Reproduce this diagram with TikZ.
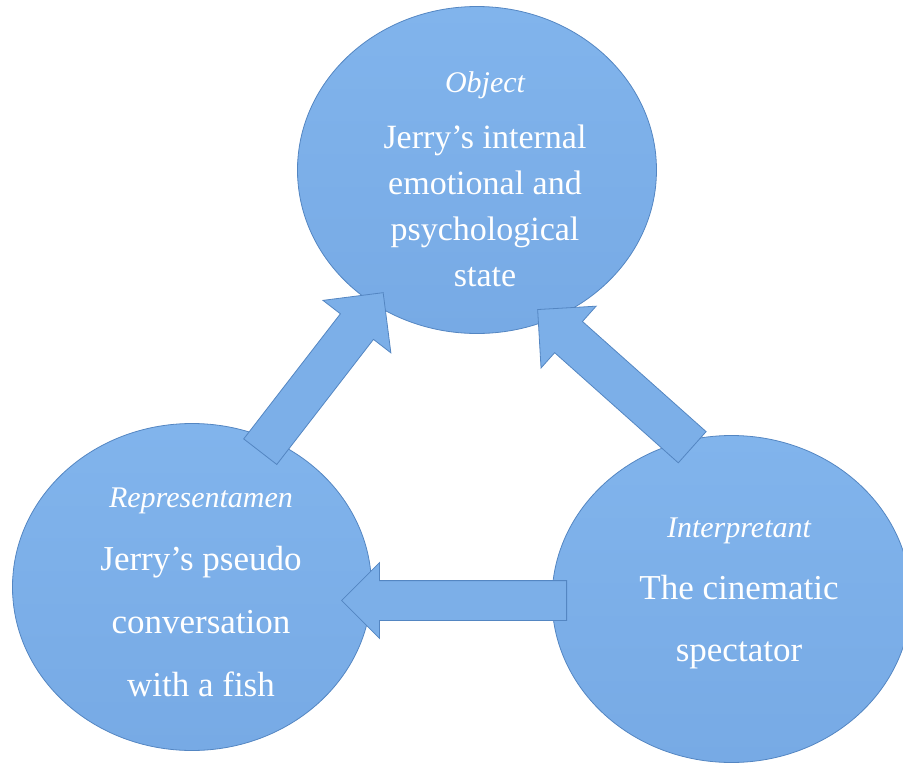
\documentclass[tikz,border=0pt]{standalone}
\usepackage{fontspec}
\setmainfont{Liberation Serif}
\usetikzlibrary{shapes.geometric,shapes.arrows}
\definecolor{signtop}{RGB}{129,180,236}
\definecolor{signbottom}{RGB}{119,170,229}
\definecolor{signfill}{RGB}{124,175,232}
\definecolor{signedge}{RGB}{84,134,194}
\tikzset{
  signnode/.style={
    ellipse,
    draw=signedge,
    line width=0.8pt,
    top color=signtop,
    bottom color=signbottom,
    minimum width=359,
    minimum height=327,
    inner sep=0pt
  },
  signtext/.style={
    text=white,
    align=center,
    inner sep=0pt
  },
  blockarrow/.style={
    single arrow,
    draw=signedge,
    fill=signfill,
    line width=0.8pt,
    inner xsep=0pt,
    text height=0pt,
    text depth=0pt,
    anchor=tail
  }
}

\begin{document}
\begin{tikzpicture}[x=1pt,y=-1pt]
  \useasboundingbox (0,0) rectangle (903,766);
  % the three corners of the sign
  \node[signnode] (object) at (477,170) {};
  \node[signnode] (repr) at (192,587) {};
  \node[signnode] (interp) at (731.5,599) {};
  % block arrows
  \node[blockarrow, inner ysep=20.5pt, single arrow head extend=22pt,
    minimum height=201, rotate=52.3] (reprobj) at (260,452) {};
  \node[blockarrow, inner ysep=20.5pt, single arrow head extend=20.5pt,
    minimum height=207, rotate=138.3] (interpobj) at (692.5,447.5) {};
  \node[blockarrow, inner ysep=19.5pt, single arrow head extend=18pt,
    minimum height=225, rotate=180] (interprepr) at (567,600.5) {};
  % texts
  \node[signtext, font=\fontsize{34}{46}\selectfont] (objecttext) at (485,179)
    {{\fontsize{30}{46}\selectfont\itshape Object}\\[10pt]
     Jerry’s internal\\ emotional and\\ psychological\\ state};
  \node[signtext, font=\fontsize{35}{63}\selectfont] (reprtext) at (201,592)
    {{\fontsize{30}{63}\selectfont\itshape Representamen}\\
     Jerry’s pseudo\\ conversation\\ with a fish};
  \node[signtext, font=\fontsize{35}{62}\selectfont] (interptext) at (739,593.5)
    {{\fontsize{30}{62}\selectfont\itshape Interpretant}\\
     The cinematic\\ spectator};
\end{tikzpicture}
\end{document}
